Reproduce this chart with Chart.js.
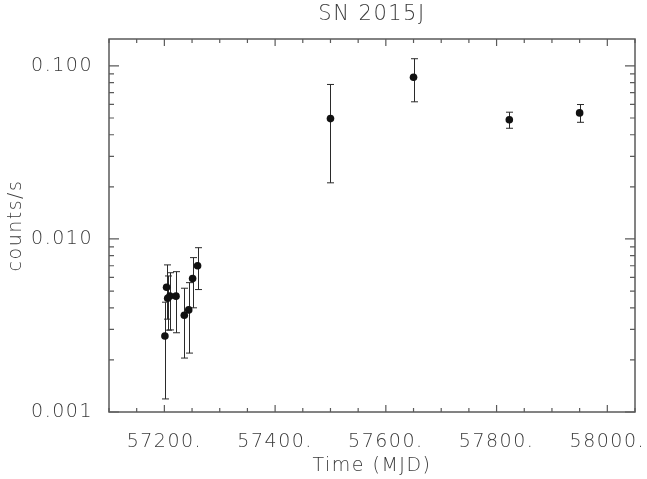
<!DOCTYPE html>
<html>
<head>
<meta charset="utf-8">
<title>SN 2015J</title>
<script src="https://cdn.jsdelivr.net/npm/chart.js@4.4.1/dist/chart.umd.min.js"></script>
<style>
  html, body { margin: 0; padding: 0; background: #fff; }
  canvas { display: block; }
</style>
</head>
<body>
<canvas id="grafico" width="647" height="479"></canvas>
<script>
// === Datos (MJD, cuentas/s, error 1 sigma) ===
const mjd = [57201, 57204, 57206, 57210, 57221, 57236, 57244, 57251, 57260, 57500, 57650, 57823, 57950];
const tasa = [0.00275, 0.00526, 0.00454, 0.00468, 0.00467, 0.00362, 0.00389, 0.0059, 0.0070, 0.0496, 0.086, 0.0488, 0.0535];
const error = [0.00156, 0.00182, 0.00157, 0.0017, 0.0018, 0.00157, 0.0017, 0.0019, 0.0019, 0.0285, 0.024, 0.0052, 0.0063];

// === Ejes ===
const xMin = 57100, xMax = 58050, xPasoMenor = 50;
const xMayores = [57200, 57400, 57600, 57800, 58000];
const xEtiquetas = ['57200.', '57400.', '57600.', '57800.', '58000.'];
const yMin = 0.001, yMax = 0.143;
const yMayores = [0.001, 0.01, 0.1];
const yEtiquetas = ['0.001', '0.010', '0.100'];

const colorTexto = '#3a3a3a';
const colorEje = '#5a5a5a';
const fuente = "'DejaVu Sans', sans-serif";
const letra = { family: fuente, size: 19, weight: '200' };

// ticks menores cada 50 en x, 1..9 por década en y
function ticksX() {
  const t = [];
  for (let v = xMin; v <= xMax; v += xPasoMenor) t.push({ value: v });
  return t;
}
function ticksY() {
  const t = [];
  yMayores.forEach(d => {
    for (let m = 1; m <= 9; m++) {
      const v = m === 1 ? d : m * d;
      if (v <= yMax) t.push({ value: v });
    }
  });
  return t;
}

// === Texto algo más espaciado, como la fuente de la figura original ===
const espaciado = {
  id: 'espaciado',
  beforeUpdate(chart) { chart.ctx.letterSpacing = '1.5px'; },
  beforeDraw(chart) { chart.ctx.letterSpacing = '1.5px'; }
};

// === Barras de error ===
const barrasError = {
  id: 'barrasError',
  beforeDatasetsDraw(chart) {
    const { ctx, scales: { x, y } } = chart;
    ctx.save();
    ctx.strokeStyle = '#2a2a2a';
    ctx.lineWidth = 1;
    mjd.forEach((t, i) => {
      const px = Math.round(x.getPixelForValue(t)) + 0.5;
      const yTop = y.getPixelForValue(tasa[i] + error[i]);
      const yBot = y.getPixelForValue(Math.max(tasa[i] - error[i], yMin));
      ctx.beginPath();
      ctx.moveTo(px, yTop);
      ctx.lineTo(px, yBot);
      ctx.moveTo(px - 3.5, yTop);
      ctx.lineTo(px + 3.5, yTop);
      ctx.moveTo(px - 3.5, yBot);
      ctx.lineTo(px + 3.5, yBot);
      ctx.stroke();
    });
    ctx.restore();
  }
};

// === Marco y ticks hacia adentro en los cuatro lados ===
const marco = {
  id: 'marco',
  afterDraw(chart) {
    const { ctx, chartArea: a, scales: { x, y } } = chart;
    ctx.save();
    ctx.strokeStyle = colorEje;
    ctx.lineWidth = 1.5;
    ctx.strokeRect(a.left, a.top, a.right - a.left, a.bottom - a.top);
    ctx.lineWidth = 1.2;
    ctx.beginPath();
    x.ticks.forEach(t => {
      const px = x.getPixelForValue(t.value);
      const len = xMayores.includes(t.value) ? 7 : 4;
      ctx.moveTo(px, a.bottom);
      ctx.lineTo(px, a.bottom - len);
      ctx.moveTo(px, a.top);
      ctx.lineTo(px, a.top + len);
    });
    y.ticks.forEach(t => {
      const py = y.getPixelForValue(t.value);
      const len = yMayores.includes(t.value) ? 10 : 5;
      ctx.moveTo(a.left, py);
      ctx.lineTo(a.left + len, py);
      ctx.moveTo(a.right, py);
      ctx.lineTo(a.right - len, py);
    });
    ctx.stroke();
    ctx.restore();
  }
};

new Chart(document.getElementById('grafico'), {
  type: 'scatter',
  data: {
    datasets: [{
      label: 'SN 2015J',
      data: mjd.map((t, i) => ({ x: t, y: tasa[i] })),
      backgroundColor: '#111',
      borderWidth: 0,
      pointRadius: 3.8,
      pointHoverRadius: 3.8
    }]
  },
  options: {
    responsive: false,
    animation: false,
    devicePixelRatio: 1,
    layout: { padding: { left: 0, right: 12, top: 0, bottom: 0 } },
    plugins: {
      legend: { display: false },
      tooltip: { enabled: false }
    },
    scales: {
      x: {
        type: 'linear',
        min: xMin,
        max: xMax,
        afterBuildTicks: s => { s.ticks = ticksX(); },
        afterFit: s => { s.height = 67; },
        grid: { display: false },
        border: { display: false },
        ticks: {
          autoSkip: false,
          maxRotation: 0,
          padding: 11,
          color: colorTexto,
          font: letra,
          callback: v => {
            const k = xMayores.indexOf(v);
            return k >= 0 ? xEtiquetas[k] : '';
          }
        },
        title: {
          display: true,
          text: 'Time (MJD)',
          color: colorTexto,
          font: letra,
          padding: { top: 0, bottom: 2 }
        }
      },
      // eje superior solo para centrar el título sobre el área del gráfico
      titulo: {
        type: 'linear',
        position: 'top',
        min: xMin,
        max: xMax,
        afterFit: s => { s.height = 39; },
        grid: { display: false },
        border: { display: false },
        ticks: { display: false },
        title: {
          display: true,
          text: 'SN 2015J',
          color: colorTexto,
          font: { family: fuente, size: 21, weight: '200' },
          padding: { top: 2, bottom: 0 }
        }
      },
      y: {
        type: 'logarithmic',
        min: yMin,
        max: yMax,
        afterBuildTicks: s => { s.ticks = ticksY(); },
        afterFit: s => { s.width = 109; },
        grid: { display: false },
        border: { display: false },
        ticks: {
          autoSkip: false,
          padding: 8,
          color: colorTexto,
          font: letra,
          callback: v => {
            const k = yMayores.indexOf(v);
            return k >= 0 ? yEtiquetas[k] : '';
          }
        },
        title: {
          display: true,
          text: 'counts/s',
          color: colorTexto,
          font: letra,
          padding: { top: 5, bottom: 0 }
        }
      }
    }
  },
  plugins: [espaciado, barrasError, marco]
});
</script>
</body>
</html>
